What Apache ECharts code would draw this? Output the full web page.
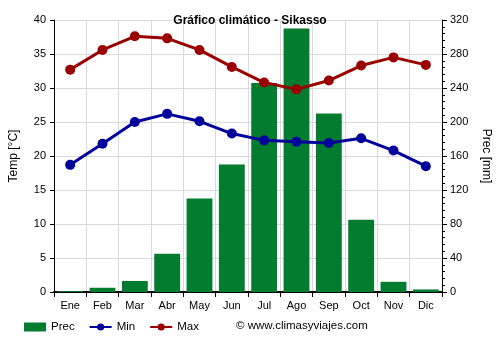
<!DOCTYPE html>
<html>
<head>
<meta charset="utf-8">
<script src="https://cdn.jsdelivr.net/npm/echarts@6/dist/echarts.min.js"></script>
<style>
  html, body { margin: 0; padding: 0; background: #fff; }
  #chart { width: 500px; height: 350px; }
</style>
</head>
<body>
<div id="chart"></div>
<script>
// Monthly climate data for Sikasso
const months = ['Ene', 'Feb', 'Mar', 'Abr', 'May', 'Jun', 'Jul', 'Ago', 'Sep', 'Oct', 'Nov', 'Dic'];
const precMm = [1, 5, 13, 45, 110, 150, 246, 310, 210, 85, 12, 3];
const tempMin = [18.7, 21.8, 25.0, 26.2, 25.1, 23.3, 22.3, 22.1, 21.9, 22.6, 20.8, 18.5];
const tempMax = [32.7, 35.6, 37.6, 37.3, 35.6, 33.1, 30.8, 29.8, 31.1, 33.3, 34.5, 33.4];

const font = 'Liberation Sans, Arial, sans-serif';
const chart = echarts.init(document.getElementById('chart'), null, { renderer: 'canvas' });

chart.setOption({
  animation: false,
  backgroundColor: '#fff',
  textStyle: { fontFamily: font },
  title: {
    text: 'Gráfico climático - Sikasso',
    left: 'center',
    top: 10,
    textStyle: { fontSize: 12, fontWeight: 'bold', color: '#000', fontFamily: font }
  },
  grid: { left: 49, right: 49, top: 20, bottom: 58 },
  legend: {
    left: 24,
    top: 321,
    padding: 0,
    itemWidth: 22,
    itemHeight: 9,
    itemGap: 14,
    textStyle: { fontSize: 11.5, color: '#000', fontFamily: font },
    data: [
      { name: 'Prec', icon: 'rect' },
      { name: 'Min' },
      { name: 'Max' }
    ]
  },
  graphic: [
    {
      type: 'text',
      left: 236,
      top: 320,
      style: { text: '© www.climasyviajes.com', fontSize: 11.5, fill: '#000', fontFamily: font }
    }
  ],
  xAxis: {
    type: 'category',
    data: months,
    boundaryGap: true,
    axisLine: { lineStyle: { color: '#000', width: 2 } },
    axisTick: { show: true, alignWithLabel: false, length: 5, lineStyle: { color: '#000' } },
    axisLabel: { color: '#000', fontSize: 11, margin: 8 },
    splitLine: { show: true, lineStyle: { color: '#d9d9d9' } }
  },
  yAxis: [
    {
      type: 'value',
      min: 0, max: 40, interval: 5,
      name: 'Temp [°C]',
      nameLocation: 'middle',
      nameGap: 34,
      nameTextStyle: { color: '#000', fontSize: 12 },
      axisLine: { show: true, lineStyle: { color: '#000' } },
      axisTick: { show: true, length: 4, lineStyle: { color: '#000' } },
      axisLabel: { color: '#000', fontSize: 11 },
      splitLine: { show: true, lineStyle: { color: '#d9d9d9' } }
    },
    {
      type: 'value',
      min: 0, max: 320, interval: 40,
      name: 'Prec [mm]',
      nameLocation: 'middle',
      nameGap: 38,
      nameRotate: -90,
      nameTextStyle: { color: '#000', fontSize: 12 },
      axisLine: { show: true, lineStyle: { color: '#000' } },
      axisTick: { show: true, length: 5, lineStyle: { color: '#000' } },
      minorTick: { show: true, splitNumber: 5, length: 3, lineStyle: { color: '#000' } },
      axisLabel: { color: '#000', fontSize: 11 },
      splitLine: { show: false }
    }
  ],
  series: [
    {
      name: 'Prec',
      type: 'bar',
      yAxisIndex: 1,
      data: precMm,
      barCategoryGap: '20%',
      itemStyle: { color: '#047c30' }
    },
    {
      name: 'Min',
      type: 'line',
      yAxisIndex: 0,
      data: tempMin,
      symbol: 'circle',
      symbolSize: 10,
      lineStyle: { color: '#00009a', width: 3 },
      itemStyle: { color: '#00009a' }
    },
    {
      name: 'Max',
      type: 'line',
      yAxisIndex: 0,
      data: tempMax,
      symbol: 'circle',
      symbolSize: 10,
      lineStyle: { color: '#9a0000', width: 3 },
      itemStyle: { color: '#9a0000' }
    }
  ]
});
</script>
</body>
</html>
